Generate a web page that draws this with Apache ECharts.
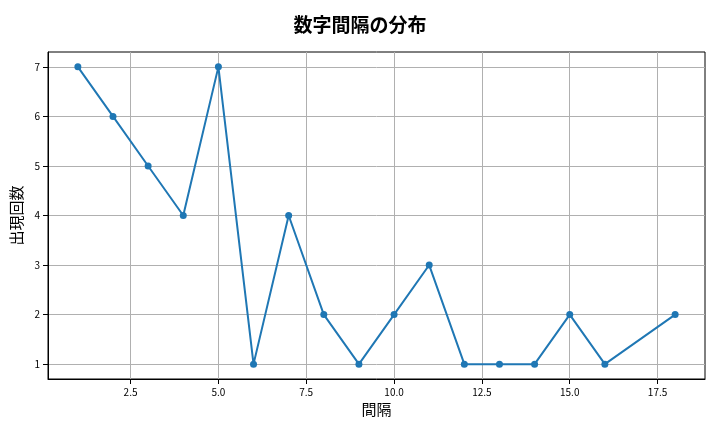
<!DOCTYPE html>
<html><head><meta charset="utf-8">
<script src="https://cdn.jsdelivr.net/npm/echarts@6/dist/echarts.min.js"></script>
<style>html,body{margin:0;padding:0;background:#fff}#c{width:720px;height:432px}</style>
</head><body><div id="c"></div>
<script>
const xValues=[1,2,3,4,5,6,7,8,9,10,11,12,13,14,15,16,18];
const yValues=[7,6,5,4,7,1,4,2,1,2,3,1,1,1,2,1,2];
const xTicks=[2.5,5.0,7.5,10.0,12.5,15.0,17.5];
const yTicks=[1,2,3,4,5,6,7];
const font='"Noto Sans CJK JP", "DejaVu Sans", sans-serif';
const chart=echarts.init(document.getElementById('c'));
chart.setOption({
  animation:false,
  title:{text:'数字間隔の分布',left:'center',top:10,textStyle:{fontFamily:font,fontSize:19,fontWeight:'bold',color:'#000'}},
  grid:{left:48,right:15,top:52,bottom:53,show:true,borderColor:'#000',borderWidth:1,backgroundColor:'transparent'},
  xAxis:{type:'value',min:0.15,max:18.85,name:'間隔',nameLocation:'middle',nameGap:20,
    nameTextStyle:{fontFamily:font,fontSize:15,color:'#000'},
    axisLine:{onZero:false,lineStyle:{color:'#000'}},
    axisTick:{show:true,customValues:xTicks,lineStyle:{color:'#000'}},
    axisLabel:{customValues:xTicks,formatter:v=>v.toFixed(1),color:'#000',fontSize:10,fontFamily:font},
    splitLine:{show:true,lineStyle:{color:'#b0b0b0'}}},
  yAxis:{type:'value',min:0.7,max:7.3,name:'出現回数',nameLocation:'middle',nameGap:18,
    nameTextStyle:{fontFamily:font,fontSize:15,color:'#000'},
    axisLine:{show:true,onZero:false,lineStyle:{color:'#000'}},
    axisTick:{show:true,customValues:yTicks,lineStyle:{color:'#000'}},
    axisLabel:{customValues:yTicks,color:'#000',fontSize:10,fontFamily:font},
    splitLine:{show:true,lineStyle:{color:'#b0b0b0'}}},
  series:[{type:'line',data:xValues.map((x,i)=>[x,yValues[i]]),symbol:'circle',symbolSize:7,
    lineStyle:{color:'#1f77b4',width:2},itemStyle:{color:'#1f77b4'}}]
});
</script></body></html>
